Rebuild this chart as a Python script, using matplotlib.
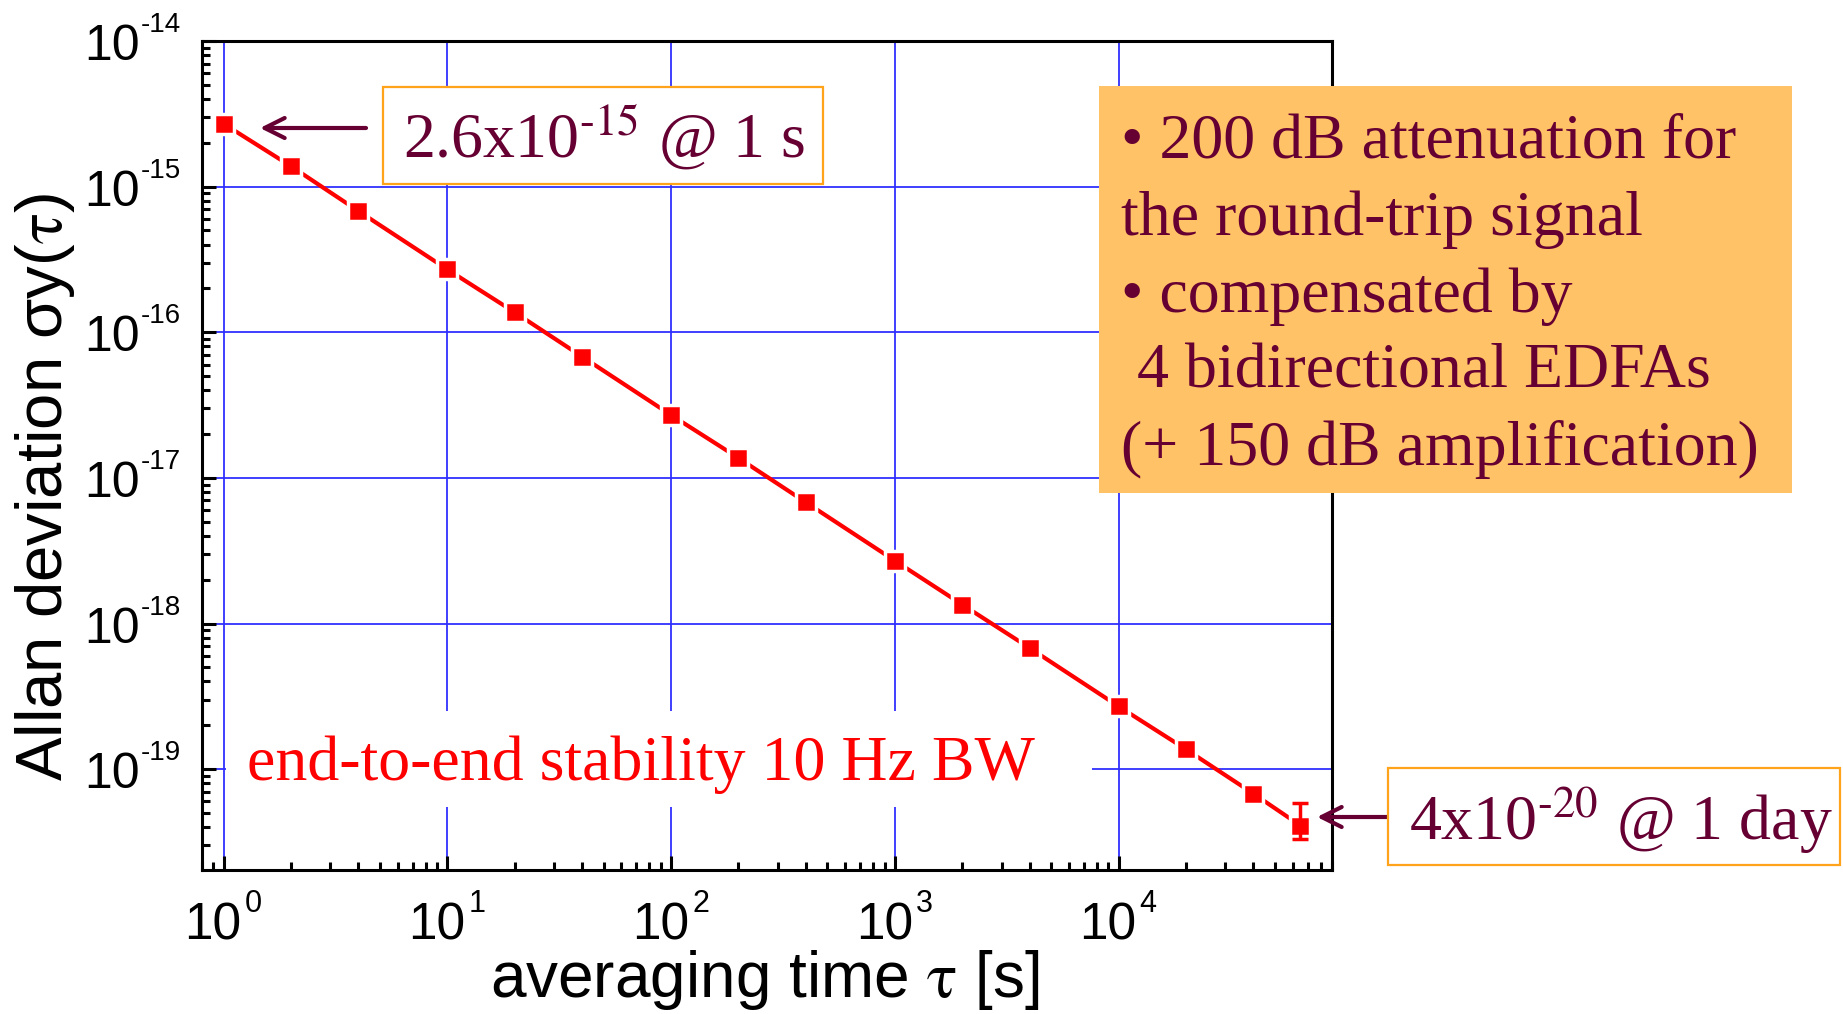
import matplotlib
matplotlib.use('Agg')
import matplotlib.pyplot as plt
from matplotlib.patches import Rectangle
from matplotlib.ticker import LogLocator, NullFormatter
from matplotlib.transforms import offset_copy
import numpy as np

plt.rcParams['font.family'] = ['Liberation Sans', 'DejaVu Sans']

# Allan deviation data
tau = [1, 2, 4, 10, 20, 40, 100, 200, 400, 1000, 2000, 4000,
       10000, 20000, 40000, 65000]
adev = [2.7e-15, 1.38e-15, 6.8e-16, 2.7e-16, 1.37e-16, 6.8e-17,
        2.7e-17, 1.37e-17, 6.8e-18, 2.7e-18, 1.35e-18, 6.8e-19,
        2.7e-19, 1.37e-19, 6.8e-20, 4.1e-20]
last_err_low = 3.3e-20
last_err_high = 5.9e-20

x_decades = [0, 1, 2, 3, 4]
y_decades = [-19, -18, -17, -16, -15, -14]

label_1s = '2.6x10$^{\u201015}$ @ 1 s'
label_1day = '4x10$^{\u201020}$ @ 1 day'
note_lines = ['\u2022 200 dB attenuation for',
              'the round-trip signal',
              '\u2022 compensated by',
              ' 4 bidirectional EDFAs',
              '(+ 150 dB amplification)']
bw_text = 'end-to-end stability 10 Hz BW'

W, H = 1843, 1014
MAROON = '#660033'
ORANGE = '#FFA31A'
NOTE_FILL = '#FFC266'
GRID_BLUE = '#3030FF'
SERIF = 46


def fx(x):
    return x / W


def fy(y):
    return 1 - y / H


fig = plt.figure(figsize=(W / 100, H / 100), dpi=100)
ax = fig.add_axes([fx(202), fy(870), fx(1332) - fx(202), fy(41) - fy(870)])
ax.set_xscale('log')
ax.set_yscale('log')
ax.set_xlim(0.8, 9.0e4)
ax.set_ylim(2.03e-20, 1e-14)

ax.grid(True, which='major', color=GRID_BLUE, lw=1.3, zorder=0)
ax.set_axisbelow(True)

# main curve, white marker edge gives the gap between line and squares
ax.plot(tau, adev, color='red', lw=3, marker='s', ms=14.5,
        mfc='red', mec='white', mew=2.5, zorder=3)
ax.errorbar([tau[-1]], [adev[-1]],
            yerr=[[adev[-1] - last_err_low], [last_err_high - adev[-1]]],
            fmt='none', ecolor='red', elinewidth=2.5, capsize=6,
            capthick=2.5, zorder=4)

for s in ax.spines.values():
    s.set_linewidth(2.2)
    s.set_color('black')

ax.xaxis.set_major_locator(LogLocator(base=10, numticks=10))
ax.xaxis.set_minor_locator(LogLocator(base=10, subs=np.arange(2, 10), numticks=20))
ax.yaxis.set_major_locator(LogLocator(base=10, numticks=10))
ax.yaxis.set_minor_locator(LogLocator(base=10, subs=np.arange(2, 10), numticks=20))
for axis in (ax.xaxis, ax.yaxis):
    axis.set_major_formatter(NullFormatter())
    axis.set_minor_formatter(NullFormatter())

ax.tick_params(which='major', direction='in', length=10, width=2.2,
               top=False, right=False)
ax.tick_params(which='minor', direction='in', length=6, width=2.2,
               top=False, right=False)

# Origin-style tick labels: "10" with a small raised exponent
ytrans = ax.get_yaxis_transform()
for e in y_decades:
    ax.text(0, 10.0 ** e, '10', fontsize=36, ha='right', va='baseline',
            transform=offset_copy(ytrans, fig=fig, x=-62, y=-19, units='dots'))
    ax.text(0, 10.0 ** e, '%d' % e, fontsize=20, ha='left', va='baseline',
            transform=offset_copy(ytrans, fig=fig, x=-61, y=9, units='dots'))
xtrans = ax.get_xaxis_transform()
for e in x_decades:
    ax.text(10.0 ** e, 0, '10', fontsize=37, ha='right', va='baseline',
            transform=offset_copy(xtrans, fig=fig, x=18, y=-70, units='dots'))
    ax.text(10.0 ** e, 0, '%d' % e, fontsize=22, ha='left', va='baseline',
            transform=offset_copy(xtrans, fig=fig, x=21, y=-42, units='dots'))

ax.set_xlabel(r'averaging time $\mathrm{\tau}$ [s]', fontsize=46,
              va='baseline', math_fontfamily='stix')
ax.xaxis.set_label_coords(0.498, (870 - 997) / 829)
ax.set_ylabel(r'Allan deviation σy($\mathrm{\tau}$)', fontsize=47,
              va='center', math_fontfamily='stix')
ax.yaxis.set_label_coords((45 - 202) / 1130, (870 - 487) / 829)

# white patch behind the bandwidth text (hides the grid)
fig.add_artist(Rectangle((fx(226), fy(807)), fx(1092) - fx(226), fy(711) - fy(807),
                         transform=fig.transFigure, facecolor='white',
                         edgecolor='none', zorder=2))
fig.text(fx(247), fy(780), bw_text, color='red', fontsize=SERIF,
         family='Liberation Serif', va='baseline', zorder=5)

# 1 s annotation box
fig.add_artist(Rectangle((fx(383), fy(184)), fx(823) - fx(383), fy(87) - fy(184),
                         transform=fig.transFigure, facecolor='white',
                         edgecolor=ORANGE, lw=1.6, zorder=2))
fig.text(fx(403), fy(158), label_1s, color=MAROON, fontsize=SERIF,
         family='Liberation Serif', math_fontfamily='stix',
         va='baseline', zorder=5)
ax.annotate('', xy=(260, H - 128), xytext=(366, H - 128),
            xycoords='figure pixels', textcoords='figure pixels',
            arrowprops=dict(arrowstyle='->', color=MAROON, lw=3,
                            mutation_scale=36, shrinkA=0, shrinkB=0),
            annotation_clip=False)

# 1 day annotation box
fig.add_artist(Rectangle((fx(1388), fy(865)), fx(1840) - fx(1388), fy(768) - fy(865),
                         transform=fig.transFigure, facecolor='white',
                         edgecolor=ORANGE, lw=1.6, zorder=2))
fig.text(fx(1409), fy(840), label_1day, color=MAROON, fontsize=SERIF,
         family='Liberation Serif', math_fontfamily='stix',
         va='baseline', zorder=5)
ax.annotate('', xy=(1317, H - 817), xytext=(1388, H - 817),
            xycoords='figure pixels', textcoords='figure pixels',
            arrowprops=dict(arrowstyle='->', color=MAROON, lw=3,
                            mutation_scale=36, shrinkA=0, shrinkB=0),
            annotation_clip=False)

# note box on the right
fig.add_artist(Rectangle((fx(1099), fy(493)), fx(1792) - fx(1099), fy(86) - fy(493),
                         transform=fig.transFigure, facecolor=NOTE_FILL,
                         edgecolor='none', zorder=2))
baselines = [158, 235, 312, 388, 465]
for line, yb in zip(note_lines, baselines):
    fig.text(fx(1121), fy(yb), line, color=MAROON, fontsize=SERIF,
             family='Liberation Serif', va='baseline', zorder=5)

fig.savefig('out.png', dpi=100)
